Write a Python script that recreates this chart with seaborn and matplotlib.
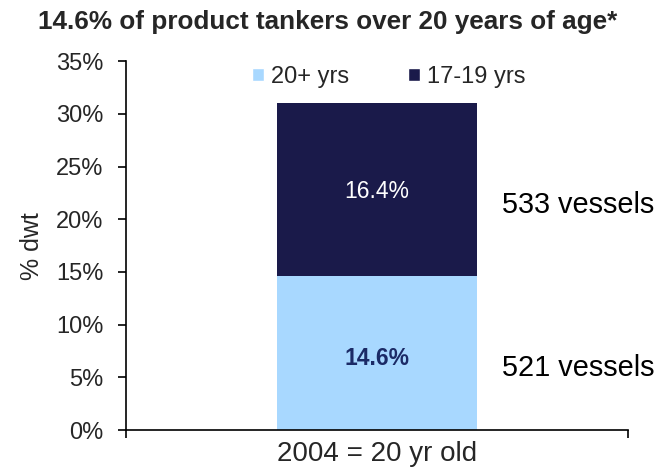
import matplotlib
matplotlib.use("Agg")
import matplotlib.pyplot as plt
from matplotlib.patches import Patch
from matplotlib.ticker import FuncFormatter, FixedLocator
import seaborn as sns
import pandas as pd

# Fleet age data (% of deadweight)
category = ["2004 = 20 yr old"]
share_20_plus = [14.6]     # 20+ yrs
share_17_19 = [16.4]       # 17-19 yrs
vessels_20_plus = [521]
vessels_17_19 = [533]
series_names = ["20+ yrs", "17-19 yrs"]

light_blue = "#A8D8FF"
navy = "#1A1A4A"

sns.set_theme(style="white")
plt.rcParams["font.family"] = ["Liberation Sans", "DejaVu Sans"]

df = pd.DataFrame({
    "category": category,
    "old": share_20_plus,
    "mid": share_17_19,
})
df["total"] = df["old"] + df["mid"]

fig = plt.figure(figsize=(6.56, 4.67), dpi=100)
ax = fig.add_axes([0.192, 0.079, 0.765, 0.79])

# Stacked bar: full height in navy, lower segment in light blue on top
sns.barplot(data=df, x="category", y="total", color=navy, width=0.4,
            saturation=1, ax=ax, linewidth=0)
sns.barplot(data=df, x="category", y="old", color=light_blue, width=0.4,
            saturation=1, ax=ax, linewidth=0)

ax.set_xlim(-0.5, 0.5)
ax.set_ylim(0, 35)
ax.yaxis.set_major_locator(FixedLocator([0, 5, 10, 15, 20, 25, 30, 35]))
ax.yaxis.set_major_formatter(FuncFormatter(lambda v, _: f"{v:.0f}%"))

ax.set_ylabel("% dwt", fontsize=18, labelpad=9)
ax.set_xlabel("")
ax.tick_params(axis="y", direction="out", length=6, width=1.2, color="black",
               labelsize=17, pad=10, left=True)
ax.tick_params(axis="x", which="major", length=0, labelsize=20, pad=8)
ax.xaxis.set_minor_locator(FixedLocator([-0.5, 0.5]))
ax.tick_params(axis="x", which="minor", direction="out", length=6, width=1.2,
               color="black", bottom=True)

for side in ["top", "right"]:
    ax.spines[side].set_visible(False)
for side in ["left", "bottom"]:
    ax.spines[side].set_color("black")
    ax.spines[side].set_linewidth(1.2)

# Segment value labels and vessel counts
for i in range(len(category)):
    ax.annotate(f"{share_20_plus[i]:.1f}%", (i, share_20_plus[i] / 2),
                xytext=(0, -4), textcoords="offset points", ha="center",
                va="center", fontsize=16.5, fontweight="bold", color="#1B2A66")
    ax.annotate(f"{share_17_19[i]:.1f}%",
                (i, share_20_plus[i] + share_17_19[i] / 2),
                xytext=(0, -1), textcoords="offset points", ha="center",
                va="center", fontsize=16.5, color="white")
    ax.annotate(f"{vessels_20_plus[i]} vessels", (0.25 + i, share_20_plus[i] / 2),
                xytext=(0, -11), textcoords="offset points", ha="left",
                va="center", fontsize=20.8, color="black")
    ax.annotate(f"{vessels_17_19[i]} vessels",
                (0.25 + i, share_20_plus[i] + share_17_19[i] / 2),
                xytext=(0, -11), textcoords="offset points", ha="left",
                va="center", fontsize=20.8, color="black")

handles = [Patch(facecolor=light_blue, label=series_names[0]),
           Patch(facecolor=navy, label=series_names[1])]
ax.legend(handles=handles, loc="center", bbox_to_anchor=(0.524, 0.957),
          ncol=2, frameon=False, fontsize=17, handlelength=0.5,
          handleheight=0.5, handletextpad=0.3, columnspacing=2.5,
          borderpad=0, borderaxespad=0)

fig.text(0.5, 0.952, "14.6% of product tankers over 20 years of age*",
         ha="center", va="center", fontsize=18.8, fontweight="bold")

fig.savefig("out.png", dpi=100)
